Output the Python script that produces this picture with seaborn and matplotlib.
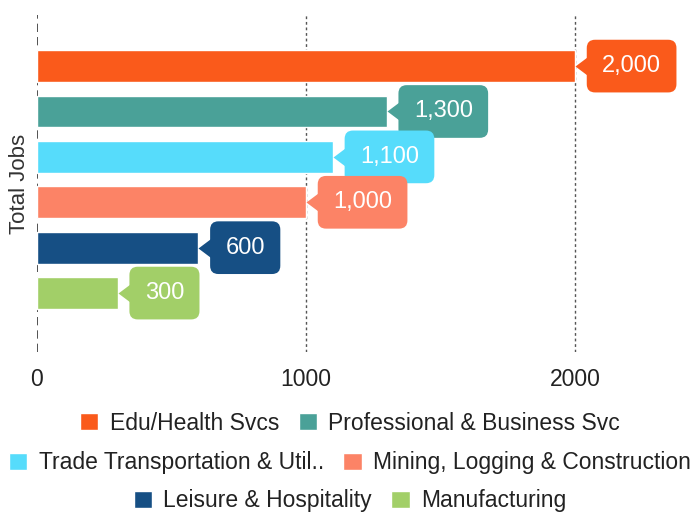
import pandas as pd
import seaborn as sns
import matplotlib.pyplot as plt
from matplotlib.patches import Patch

# Chart data
sectors = ["Edu/Health Svcs", "Professional & Business Svc", "Trade Transportation & Util..",
           "Mining, Logging & Construction", "Leisure & Hospitality", "Manufacturing"]
jobs = [2000, 1300, 1100, 1000, 600, 300]
colors = ["#FA5A1B", "#4AA198", "#56DCFB", "#FC8366", "#164F84", "#A2CF68"]
x_ticks = [0, 1000, 2000]

df = pd.DataFrame({"Sector": sectors, "Jobs": jobs})
palette = dict(zip(sectors, colors))

sns.set_style("white")
plt.rcParams["font.family"] = ["Liberation Sans", "DejaVu Sans"]

fig = plt.figure(figsize=(6.91, 5.14), dpi=100)
ax = fig.add_axes([0.0535, 0.315, 0.9305, 0.6556])

sns.barplot(data=df, x="Jobs", y="Sector", hue="Sector", palette=palette, orient="h",
            order=sectors, hue_order=sectors, width=0.7, saturation=1,
            legend=False, ax=ax)

ax.set_xlim(0, 2390)
ax.set_ylim(6.30, -1.123)

# callout value labels
for i, (v, c) in enumerate(zip(jobs, colors)):
    ax.plot(v, i, marker=[(0, 0), (1.2, -0.9), (1.2, 0.9)], ms=23, color=c,
            mec="none", zorder=3)
    ax.annotate(f"{v:,}", xy=(v, i), xytext=(19.5, 0), textcoords="offset points",
                ha="left", va="center", color="white", fontsize=17, zorder=4,
                bbox=dict(boxstyle="round,pad=0.65,rounding_size=0.35", fc=c, ec="none"))

# axes styling
ax.set_axisbelow(True)
ax.set_xticks(x_ticks)
ax.set_xticklabels([str(t) for t in x_ticks])
ax.xaxis.grid(True, color="#555555", linestyle=(0, (2, 2)), linewidth=1)
ax.yaxis.grid(False)
ax.xaxis.get_gridlines()[0].set_visible(False)
ax.axvline(0, color="#333333", linestyle=(0, (5, 3)), linewidth=1.2, zorder=0.5)
ax.set_yticks([])
ax.set_xlabel("")
ax.set_ylabel("Total Jobs", fontsize=16, color="#333333")
ax.yaxis.set_label_coords(-0.011, 0.5)
ax.tick_params(axis="x", length=0, pad=11.5, labelsize=16.5, labelcolor="#222222")
for s in ax.spines.values():
    s.set_visible(False)

# legend, three centered rows
rows = [(0, 2, 423), (2, 4, 463), (4, 6, 501)]
for a, b, yp in rows:
    handles = [Patch(facecolor=colors[k], label=sectors[k]) for k in range(a, b)]
    fig.legend(handles=handles, loc="center", bbox_to_anchor=(350 / 691, 1 - yp / 514),
               ncol=2, frameon=False, fontsize=16.5, handlelength=0.8, handleheight=0.8,
               handletextpad=0.5, columnspacing=0.85, borderaxespad=0, borderpad=0,
               labelcolor="#222222")

fig.savefig("out.png", dpi=100)
